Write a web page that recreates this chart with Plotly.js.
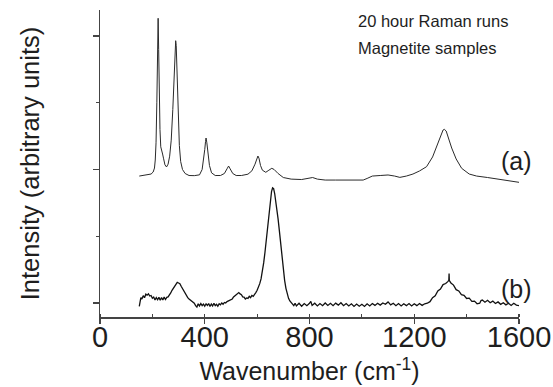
<!DOCTYPE html>
<html>
<head>
<meta charset="utf-8">
<script src="https://cdn.plot.ly/plotly-3.0.1.min.js"></script>
<style>
html,body{margin:0;padding:0;background:#fff;}
#chart{width:553px;height:387px;}
</style>
</head>
<body>
<div id="chart"></div>
<script>
// Spectrum (a): smooth, offset by one unit
const wavenumberA = [150,180,195,203,208,211,214,217,220,222,224,226,229,232,236,239,243,248,254,260,266,272,278,283,287,289,291,295,299,303,308,315,325,340,360,380,390,396,400,403,405,408,412,418,426,440,460,475,485,491,497,507,520,540,565,580,592,599,603,607,613,620,633,645,656,665,680,700,730,770,795,812,830,860,900,950,1005,1020,1040,1070,1100,1125,1145,1170,1195,1220,1247,1270,1286,1300,1310,1315,1322,1333,1343,1360,1381,1410,1438,1480,1515,1560,1600];
const intensityA = [0.951,0.959,0.966,0.981,1.011,1.071,1.200,1.500,1.900,2.133,1.900,1.550,1.300,1.170,1.125,1.116,1.080,1.035,1.019,1.040,1.100,1.220,1.450,1.750,1.930,1.965,1.930,1.700,1.400,1.180,1.060,1.000,0.970,0.955,0.954,0.960,1.000,1.070,1.150,1.210,1.236,1.200,1.120,1.030,0.975,0.955,0.955,0.970,1.005,1.026,1.005,0.970,0.955,0.955,0.965,0.990,1.040,1.085,1.101,1.085,1.030,0.995,0.979,0.995,1.009,1.000,0.970,0.940,0.928,0.925,0.932,0.940,0.928,0.921,0.921,0.921,0.921,0.933,0.951,0.955,0.959,0.951,0.941,0.951,0.966,0.989,1.021,1.094,1.171,1.251,1.296,1.301,1.288,1.221,1.161,1.079,1.009,0.966,0.951,0.940,0.929,0.918,0.904];

// Spectrum (b): noisy
const wavenumberB = [150,153,156,160,165,170,175,180,185,190,195,200,205,210,215,220,225,230,235,240,245,250,255,260,265,270,275,280,285,290,295,300,305,310,315,320,325,330,335,340,345,350,355,360,365,370,375,380,385,390,395,400,405,410,415,420,425,430,435,440,445,450,455,460,465,470,475,480,485,490,495,500,505,510,515,520,525,530,535,540,545,550,555,560,565,570,575,580,585,590,595,600,605,610,615,620,625,630,635,640,645,650,655,659,663,667,671,675,680,685,690,695,700,705,710,715,720,725,730,735,740,745,750,760,770,780,790,800,805,810,820,830,840,850,860,870,880,890,900,910,920,930,940,950,960,970,980,990,1000,1010,1020,1030,1040,1050,1060,1070,1080,1090,1100,1110,1120,1130,1140,1150,1160,1170,1180,1190,1200,1210,1220,1230,1240,1250,1260,1270,1280,1290,1300,1310,1320,1328,1332,1333,1334,1340,1350,1360,1370,1380,1390,1400,1410,1420,1430,1440,1450,1455,1460,1470,1480,1490,1500,1510,1520,1530,1540,1550,1560,1570,1580,1590,1600];
const intensityB = [-0.025,0.020,0.040,0.030,0.055,0.040,0.066,0.058,0.068,0.052,0.056,0.036,0.044,0.022,0.040,0.024,0.042,0.020,0.040,0.022,0.044,0.026,0.042,0.045,0.058,0.075,0.095,0.110,0.130,0.142,0.155,0.150,0.145,0.125,0.108,0.085,0.068,0.055,0.040,0.030,0.022,0.010,0.005,-0.002,-0.020,-0.030,-0.006,-0.022,-0.004,-0.020,-0.008,-0.024,-0.006,-0.018,-0.004,-0.026,-0.008,-0.022,-0.002,-0.020,-0.010,-0.024,-0.006,-0.014,0.000,-0.010,0.004,0.000,0.010,0.015,0.020,0.026,0.030,0.045,0.055,0.066,0.072,0.078,0.068,0.062,0.046,0.044,0.030,0.038,0.034,0.050,0.040,0.056,0.050,0.062,0.078,0.095,0.115,0.145,0.180,0.230,0.300,0.380,0.480,0.590,0.690,0.770,0.835,0.862,0.856,0.820,0.770,0.710,0.630,0.540,0.440,0.340,0.250,0.170,0.110,0.065,0.035,0.015,0.002,-0.005,-0.020,-0.002,-0.022,-0.002,-0.024,-0.004,-0.020,-0.002,0.012,-0.018,-0.002,-0.022,-0.004,-0.020,0.000,-0.018,-0.002,-0.020,-0.001,-0.016,0.002,-0.020,-0.004,-0.022,-0.006,-0.026,-0.008,-0.024,-0.010,-0.026,-0.006,-0.022,-0.004,-0.018,-0.002,-0.016,0.000,-0.010,0.008,-0.014,-0.002,-0.020,-0.004,-0.022,-0.006,-0.020,-0.004,-0.022,-0.006,-0.020,-0.004,-0.018,-0.006,-0.002,0.010,0.040,0.054,0.090,0.104,0.138,0.146,0.160,0.170,0.220,0.168,0.150,0.134,0.100,0.090,0.062,0.058,0.034,0.036,0.012,0.014,-0.006,-0.002,0.018,0.022,0.006,0.020,0.002,0.014,-0.004,0.008,-0.010,0.002,-0.014,-0.002,-0.018,-0.002,-0.016,-0.020];

const xTickVals = [0,400,800,1200,1600];
const xTickText = ['0','400','800','1200','1600'];
const noteLines = ['20 hour Raman runs','Magnetite samples'];
const curveLabels = ['(a)','(b)'];

const FONT = 'Liberation Sans, Arial, Helvetica, sans-serif';
const TXT = '#1e1e1e';

const traces = [
  {x: wavenumberA, y: intensityA, type: 'scatter', mode: 'lines',
   line: {color: '#2a2a2a', width: 1}, hoverinfo: 'skip'},
  {x: wavenumberB, y: intensityB, type: 'scatter', mode: 'lines',
   line: {color: '#111111', width: 1.3}, hoverinfo: 'skip'}
];

const layout = {
  width: 553, height: 387,
  margin: {l: 100, r: 34, t: 10, b: 70},
  paper_bgcolor: '#ffffff', plot_bgcolor: '#ffffff',
  showlegend: false,
  font: {family: FONT, color: TXT},
  xaxis: {
    range: [0, 1600], tickmode: 'array', tickvals: xTickVals, ticktext: xTickText,
    ticks: 'outside', ticklen: 5, tickwidth: 1.3, tickcolor: '#444',
    ticklabelstandoff: -11,
    showline: true, linecolor: '#444', linewidth: 1.5,
    showgrid: false, zeroline: false,
    tickfont: {family: FONT, size: 29, color: TXT},
    minor: {dtick: 200, tick0: 0, ticks: 'inside', ticklen: 3, tickwidth: 1.2, tickcolor: '#444', showgrid: false},
    title: {text: 'Wavenumber (cm<sup>-1</sup>)', font: {family: FONT, size: 25, color: TXT}, standoff: 10}
  },
  yaxis: {
    range: [-0.105, 2.195], tickmode: 'linear', tick0: 0, dtick: 1,
    showticklabels: false,
    ticks: 'outside', ticklen: 6, tickwidth: 1.3, tickcolor: '#444',
    showline: true, linecolor: '#444', linewidth: 1.5,
    showgrid: false, zeroline: false,
    minor: {dtick: 0.5, tick0: 0, ticks: 'outside', ticklen: 3, tickwidth: 1.2, tickcolor: '#444', showgrid: false},
    title: {text: 'Intensity (arbitrary units)', font: {family: FONT, size: 25.5, color: TXT}, standoff: 45}
  },
  annotations: [
    {x: 977, y: 2.112, xref: 'x', yref: 'y', text: noteLines[0], showarrow: false,
     xanchor: 'left', yanchor: 'middle', font: {family: FONT, size: 16.5, color: TXT}},
    {x: 977, y: 1.912, xref: 'x', yref: 'y', text: noteLines[1], showarrow: false,
     xanchor: 'left', yanchor: 'middle', font: {family: FONT, size: 16.5, color: TXT}},
    {x: 1591, y: 1.065, xref: 'x', yref: 'y', text: curveLabels[0], showarrow: false,
     xanchor: 'center', yanchor: 'middle', font: {family: FONT, size: 25, color: TXT}},
    {x: 1591, y: 0.105, xref: 'x', yref: 'y', text: curveLabels[1], showarrow: false,
     xanchor: 'center', yanchor: 'middle', font: {family: FONT, size: 25, color: TXT}}
  ]
};

Plotly.newPlot('chart', traces, layout, {displayModeBar: false, staticPlot: true});
</script>
</body>
</html>
